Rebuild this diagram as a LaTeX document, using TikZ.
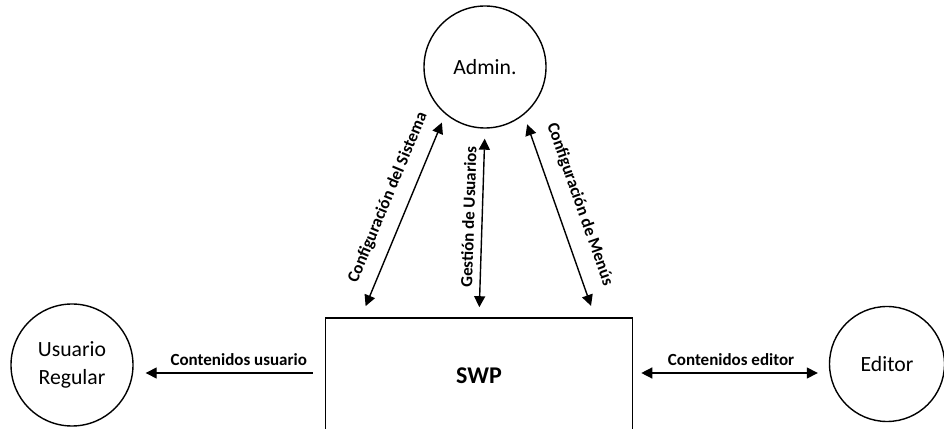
\documentclass[tikz,border=0pt]{standalone}
\usepackage{fontspec}
\setmainfont{Carlito}
\usetikzlibrary{arrows.meta}

\begin{document}
\begin{tikzpicture}[x=1pt, y=1pt,
    actor/.style={circle, draw, line width=1.4pt, minimum size=122pt, inner sep=0pt, align=center, font=\fontsize{21.7}{28}\selectfont},
    sysbox/.style={rectangle, draw, line width=1.6pt, minimum width=307pt, minimum height=116pt, font=\fontsize{24}{28}\selectfont\bfseries},
    flow/.style={line width=1.4pt, -{Triangle[length=11pt,width=11pt]}},
    both/.style={flow, {Triangle[length=11pt,width=11pt]}-{Triangle[length=11pt,width=11pt]}},
    lbl/.style={font=\fontsize{17}{20}\selectfont\bfseries, inner sep=3pt}]
            \clip (0,0) rectangle (944,428);
            \node[actor] (admin) at (485,361) {Admin.};
            \node[sysbox] (swp) at (479,52) {SWP};
            \node[actor] (usuario) at (72,63) {Usuario\\Regular};
            \node[actor, minimum size=115pt] (editor) at (887,64) {Editor};
            \draw[both, shorten <=12pt, shorten >=9pt] ([xshift=-118pt]swp.north) -- node[lbl, pos=0.55, sloped, above=10pt] {Configuración del Sistema} (admin.230);
            \draw[both, shorten <=10pt, shorten >=10pt] (swp.north) -- node[lbl, pos=0.53, sloped, above=4pt] {Gestión de Usuarios} (admin.south);
            \draw[both, shorten <=10pt, shorten >=12pt] (admin.309) -- node[lbl, pos=0.48, sloped, above=12pt] {Configuración de Menús} ([xshift=116pt]swp.north);
            \draw[flow, shorten <=12pt, shorten >=12pt] ([yshift=3pt]swp.west) -- node[lbl, pos=0.45, above=4pt] {Contenidos usuario} ([yshift=3pt]swp.west -| usuario.east);
            \draw[both, shorten <=8pt, shorten >=11pt] ([yshift=3pt]swp.east) -- node[lbl, above=4pt] {Contenidos editor} ([yshift=3pt]swp.east -| editor.west);
        \end{tikzpicture}
\end{document}
